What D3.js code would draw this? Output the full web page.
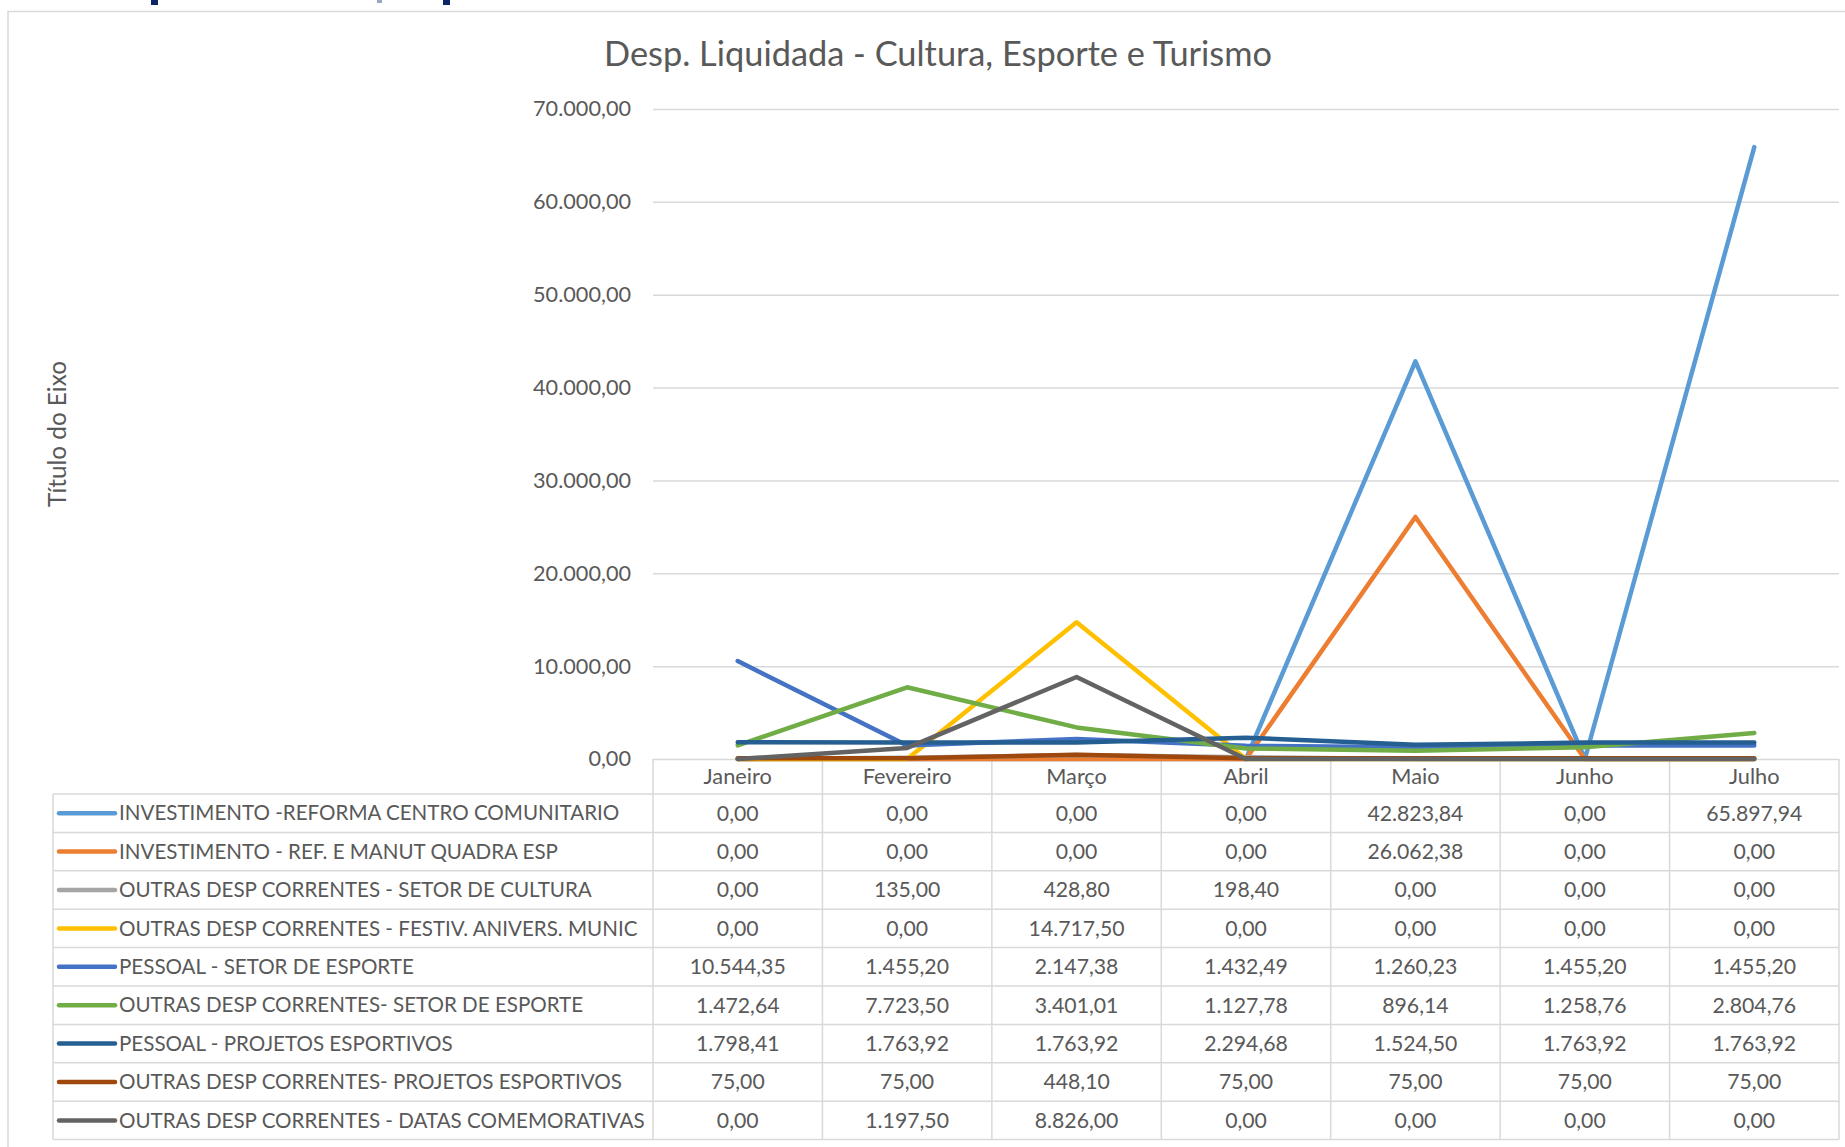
<!DOCTYPE html>
<html>
<head>
<meta charset="utf-8">
<script src="https://d3js.org/d3.v7.min.js"></script>
<title>Desp. Liquidada - Cultura, Esporte e Turismo</title>
<style>
body { margin: 0; background: #fff; }
text { font-family: Lato, "Open Sans", sans-serif; fill: #595959; }
</style>
</head>
<body>
<svg id="canvas" width="1845" height="1147"></svg>
<script>
var months = ["Janeiro", "Fevereiro", "Março", "Abril", "Maio", "Junho", "Julho"];
var seriesNames = [
  "INVESTIMENTO -REFORMA CENTRO COMUNITARIO",
  "INVESTIMENTO - REF. E MANUT QUADRA ESP",
  "OUTRAS DESP CORRENTES - SETOR DE CULTURA",
  "OUTRAS DESP CORRENTES - FESTIV. ANIVERS. MUNIC",
  "PESSOAL - SETOR DE ESPORTE",
  "OUTRAS DESP CORRENTES- SETOR DE ESPORTE",
  "PESSOAL - PROJETOS ESPORTIVOS",
  "OUTRAS DESP CORRENTES- PROJETOS ESPORTIVOS",
  "OUTRAS DESP CORRENTES - DATAS COMEMORATIVAS"
];
var reformaCentro = [0, 0, 0, 0, 42823.84, 0, 65897.94];
var quadraEsp = [0, 0, 0, 0, 26062.38, 0, 0];
var setorCultura = [0, 135, 428.80, 198.40, 0, 0, 0];
var festivAnivers = [0, 0, 14717.50, 0, 0, 0, 0];
var pessoalEsporte = [10544.35, 1455.20, 2147.38, 1432.49, 1260.23, 1455.20, 1455.20];
var outrasEsporte = [1472.64, 7723.50, 3401.01, 1127.78, 896.14, 1258.76, 2804.76];
var pessoalProjetos = [1798.41, 1763.92, 1763.92, 2294.68, 1524.50, 1763.92, 1763.92];
var outrasProjetos = [75, 75, 448.10, 75, 75, 75, 75];
var datasComemor = [0, 1197.50, 8826.00, 0, 0, 0, 0];
var yTicks = [0, 10000, 20000, 30000, 40000, 50000, 60000, 70000];

var allValues = [reformaCentro, quadraEsp, setorCultura, festivAnivers, pessoalEsporte,
                 outrasEsporte, pessoalProjetos, outrasProjetos, datasComemor];
var colors = ["#5B9BD5", "#ED7D31", "#A5A5A5", "#FFC000", "#4472C4",
              "#70AD47", "#255E91", "#9E480E", "#636363"];

var series = seriesNames.map(function(n, i) { return {name: n, values: allValues[i], color: colors[i]}; });

var br = d3.formatLocale({decimal: ",", thousands: ".", grouping: [3], currency: ["R$", ""]});
var fmt = br.format(",.2f");

var svg = d3.select("#canvas");

// medidas
var plotLeft = 653, plotRight = 1839, plotTop = 109, plotBottom = 759;
var tableLeft = 53, rowTop = 794, rowH = 38.4;
var grid = "#D9D9D9";

// moldura do gráfico
svg.append("rect").attr("x", 8).attr("y", 11.5).attr("width", 1900).attr("height", 1200)
   .attr("fill", "none").attr("stroke", grid).attr("stroke-width", 1.5);

// restos do título da página (cortado no topo)
svg.append("rect").attr("x", 151).attr("y", 0).attr("width", 7).attr("height", 5).attr("fill", "#0B2566");
svg.append("rect").attr("x", 377).attr("y", 0).attr("width", 5).attr("height", 3).attr("fill", "#9BA7C2");
svg.append("rect").attr("x", 443).attr("y", 0).attr("width", 7).attr("height", 5).attr("fill", "#0B2566");

var xScale = d3.scaleBand().domain(months).range([plotLeft, plotRight]);
var yScale = d3.scaleLinear().domain([0, 70000]).range([plotBottom, plotTop]);

// ajusta o tamanho da fonte para a largura medida no original
function fitSize(str, target, weight) {
  var t = svg.append("text").style("font-size", "20px").style("font-weight", weight || 400).text(str);
  var w = t.node().getComputedTextLength();
  t.remove();
  return 20 * target / w;
}
var legendSize = fitSize("OUTRAS DESP CORRENTES - DATAS COMEMORATIVAS", 526);
var numSize = fitSize("10.544,35", 96);
var tickSize = fitSize("70.000,00", 98);
var catSize = fitSize("Fevereiro", 89);
var titleSize = fitSize("Desp. Liquidada - Cultura, Esporte e Turismo", 668);
var axisTitleSize = fitSize("Título do Eixo", 146);

// título
svg.append("text").attr("x", 938).attr("y", 66).attr("text-anchor", "middle")
   .style("font-size", titleSize + "px").text("Desp. Liquidada - Cultura, Esporte e Turismo");

// título do eixo
svg.append("text").attr("transform", "translate(66,434) rotate(-90)").attr("text-anchor", "middle")
   .style("font-size", axisTitleSize + "px").text("Título do Eixo");

// eixo y com linhas de grade
var yAxis = d3.axisLeft(yScale).tickValues(yTicks).tickFormat(fmt)
              .tickSize(-(plotRight - plotLeft)).tickPadding(22);
var gy = svg.append("g").attr("transform", "translate(" + plotLeft + ",0)").call(yAxis);
gy.select(".domain").remove();
gy.selectAll(".tick line").attr("stroke", grid).attr("stroke-width", 1.5);
gy.selectAll(".tick text").style("font-size", tickSize + "px").attr("fill", "#595959")
  .style("font-family", "Lato, sans-serif");

// tabela de dados
var table = svg.append("g");
// linhas verticais das colunas
var bounds = months.map(function(m) { return xScale(m); }).concat([plotRight]);
table.selectAll(".vline").data(bounds).enter().append("line")
     .attr("x1", function(d) { return d; }).attr("x2", function(d) { return d; })
     .attr("y1", plotBottom).attr("y2", rowTop + rowH * series.length)
     .attr("stroke", grid).attr("stroke-width", 1.5);
table.append("line").attr("x1", tableLeft).attr("x2", tableLeft)
     .attr("y1", rowTop).attr("y2", rowTop + rowH * series.length)
     .attr("stroke", grid).attr("stroke-width", 1.5);
// linhas horizontais
table.selectAll(".hline").data(d3.range(series.length + 1)).enter().append("line")
     .attr("x1", tableLeft).attr("x2", plotRight)
     .attr("y1", function(i) { return rowTop + i * rowH; }).attr("y2", function(i) { return rowTop + i * rowH; })
     .attr("stroke", grid).attr("stroke-width", 1.5);

// meses
table.selectAll(".cat").data(months).enter().append("text")
     .attr("x", function(d) { return xScale(d) + xScale.bandwidth() / 2; })
     .attr("y", (plotBottom + rowTop) / 2).attr("dy", "0.35em").attr("text-anchor", "middle")
     .style("font-size", catSize + "px").text(function(d) { return d; });

var rows = table.selectAll(".row").data(series).enter().append("g")
     .attr("transform", function(d, i) { return "translate(0," + (rowTop + i * rowH + rowH / 2) + ")"; });
rows.append("line").attr("x1", 59).attr("x2", 115).attr("y1", 0).attr("y2", 0)
    .attr("stroke", function(d) { return d.color; }).attr("stroke-width", 4.5).attr("stroke-linecap", "round");
rows.append("text").attr("x", 119).attr("dy", "0.35em").style("font-size", legendSize + "px")
    .text(function(d) { return d.name; });
rows.selectAll(".val").data(function(d) { return d.values; }).enter().append("text")
    .attr("x", function(v, j) { return xScale(months[j]) + xScale.bandwidth() / 2; })
    .attr("dy", "0.35em").attr("text-anchor", "middle").style("font-size", numSize + "px")
    .text(function(v) { return fmt(v); });

// linhas das séries
var line = d3.line()
  .x(function(v, j) { return xScale(months[j]) + xScale.bandwidth() / 2; })
  .y(function(v) { return yScale(v); });
svg.append("g").selectAll("path").data(series).enter().append("path")
   .attr("d", function(d) { return line(d.values); })
   .attr("fill", "none").attr("stroke", function(d) { return d.color; })
   .attr("stroke-width", 4.5).attr("stroke-linejoin", "round").attr("stroke-linecap", "round");
</script>
</body>
</html>
